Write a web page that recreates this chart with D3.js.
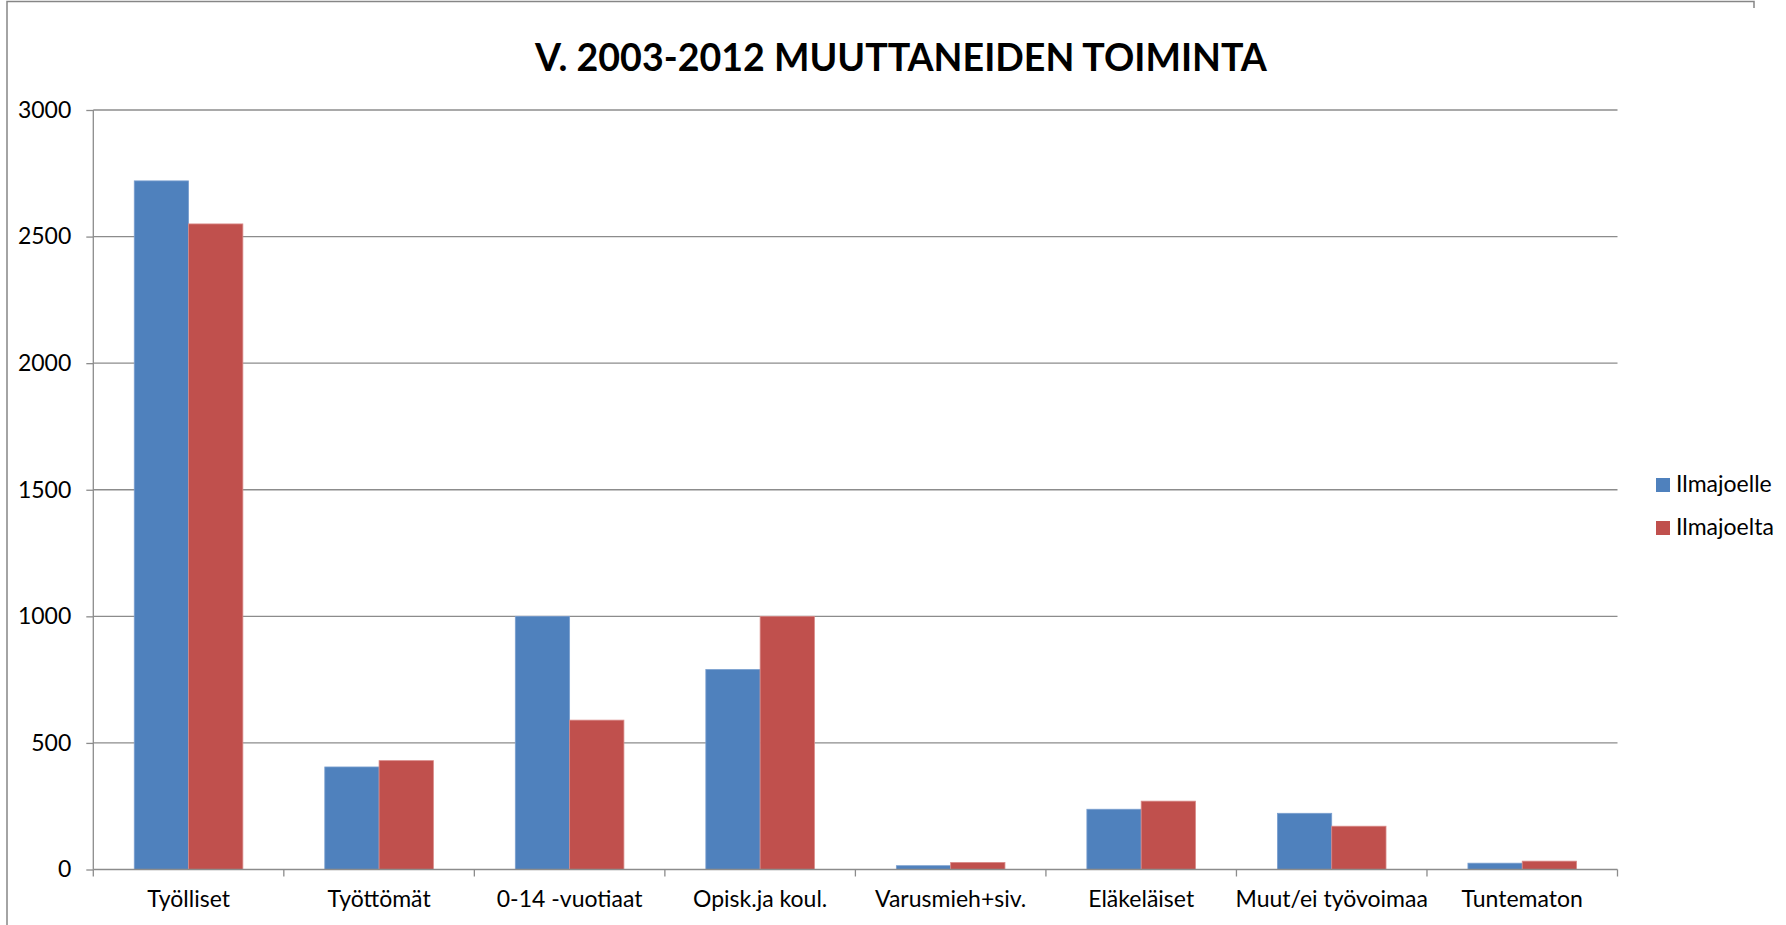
<!DOCTYPE html>
<html><head><meta charset="utf-8">
<script src="https://cdn.jsdelivr.net/npm/d3@7"></script>
<style>html,body{margin:0;padding:0;background:#fff;}svg{display:block;}</style>
</head><body>
<svg id="chart" width="1786" height="925"></svg>
<script>
const categories = ["Työlliset","Työttömät","0-14 -vuotiaat","Opisk.ja koul.","Varusmieh+siv.","Eläkeläiset","Muut/ei työvoimaa","Tuntematon"];
const seriesNames = ["Ilmajoelle","Ilmajoelta"];
const ilmajoelle = [2720, 405, 1000, 790, 15, 238, 222, 25];
const ilmajoelta = [2550, 430, 590, 1000, 28, 270, 171, 33];
const yTicks = [0, 500, 1000, 1500, 2000, 2500, 3000];
const colors = ["#4F81BD", "#C0504D"];
const title = "V. 2003-2012 MUUTTANEIDEN TOIMINTA";

(function () {
const FONT = "Lato, 'Open Sans', sans-serif";
const FS = 23;
const svg = d3.select("#chart");
const pLeft = 93.3, pRight = 1617.5, pTop = 110, pBottom = 869.5;

// frame
svg.append("path").attr("d", `M7,925 V1.5 H1754 V8`).attr("fill","none").attr("stroke","#868686").attr("stroke-width",1.5);

const x = d3.scaleBand().domain(categories).range([pLeft, pRight]).paddingInner(0.43).paddingOuter(0.215);
const xs = d3.scaleBand().domain(seriesNames).range([0, x.bandwidth()]);
const y = d3.scaleLinear().domain([0, 3000]).range([pBottom, pTop]);

// gridlines
svg.append("g").selectAll("line").data(yTicks.filter(d => d > 0)).join("line")
  .attr("x1", pLeft).attr("x2", pRight).attr("y1", d => y(d)).attr("y2", d => y(d))
  .attr("stroke", "#8c8c8c").attr("stroke-width", 1.3);

// y axis
const yAxis = svg.append("g").attr("transform", `translate(${pLeft},0)`)
  .call(d3.axisLeft(y).tickValues(yTicks).tickSize(7).tickPadding(15).tickFormat(d3.format("d")));
yAxis.select(".domain").attr("stroke", "#8c8c8c").attr("stroke-width", 1.3).attr("d", `M0,${pTop}V${pBottom}`);
yAxis.selectAll(".tick line").attr("stroke", "#8c8c8c").attr("stroke-width", 1.3);
yAxis.selectAll(".tick text").attr("font-family", FONT).attr("font-size", FS).attr("fill", "#000");

// bars
const data = categories.map((c, i) => ({c, vals: [ilmajoelle[i], ilmajoelta[i]]}));
const groups = svg.append("g").selectAll("g").data(data).join("g")
  .attr("transform", d => `translate(${x(d.c)},0)`);
groups.selectAll("rect").data(d => d.vals.map((v, j) => ({v, s: seriesNames[j], j}))).join("rect")
  .attr("x", d => xs(d.s)).attr("width", xs.bandwidth())
  .attr("y", d => y(d.v)).attr("height", d => y(0) - y(d.v))
  .attr("fill", d => colors[d.j])
  .attr("stroke", d => d.j === 0 ? "#7a9fcf" : "#d98a88").attr("stroke-width", 0.8);

// x axis
const step = x.step();
const xAxis = svg.append("g").attr("transform", `translate(0,${pBottom})`)
  .call(d3.axisBottom(x).tickSize(0).tickPadding(21));
xAxis.select(".domain").attr("stroke", "#8c8c8c").attr("stroke-width", 1.3).attr("d", `M${pLeft},0H${pRight}`);
xAxis.selectAll(".tick text").attr("font-family", FONT).attr("font-size", FS).attr("fill", "#000");
const boundaries = d3.range(categories.length + 1).map(i => pLeft + i * step);
xAxis.append("g").selectAll("line").data(boundaries).join("line")
  .attr("x1", d => d).attr("x2", d => d).attr("y1", 0).attr("y2", 7)
  .attr("stroke", "#8c8c8c").attr("stroke-width", 1.3);

// title
const t = svg.append("text").attr("x", 901).attr("y", 71).attr("text-anchor", "middle")
  .attr("font-family", FONT).attr("font-weight", "bold").attr("font-size", 38).attr("fill", "#000").text(title);
const tw = t.node().getComputedTextLength();
t.attr("font-size", 38 * 732 / tw);

// legend
const lg = svg.append("g").selectAll("g").data(seriesNames).join("g")
  .attr("transform", (d, i) => `translate(1656,${478 + i * 43})`);
lg.append("rect").attr("width", 14).attr("height", 14).attr("fill", (d, i) => colors[i]);
lg.append("text").attr("x", 20).attr("y", 14).attr("font-family", FONT).attr("font-size", FS).attr("fill", "#000").text(d => d);
})();
</script>
</body></html>
